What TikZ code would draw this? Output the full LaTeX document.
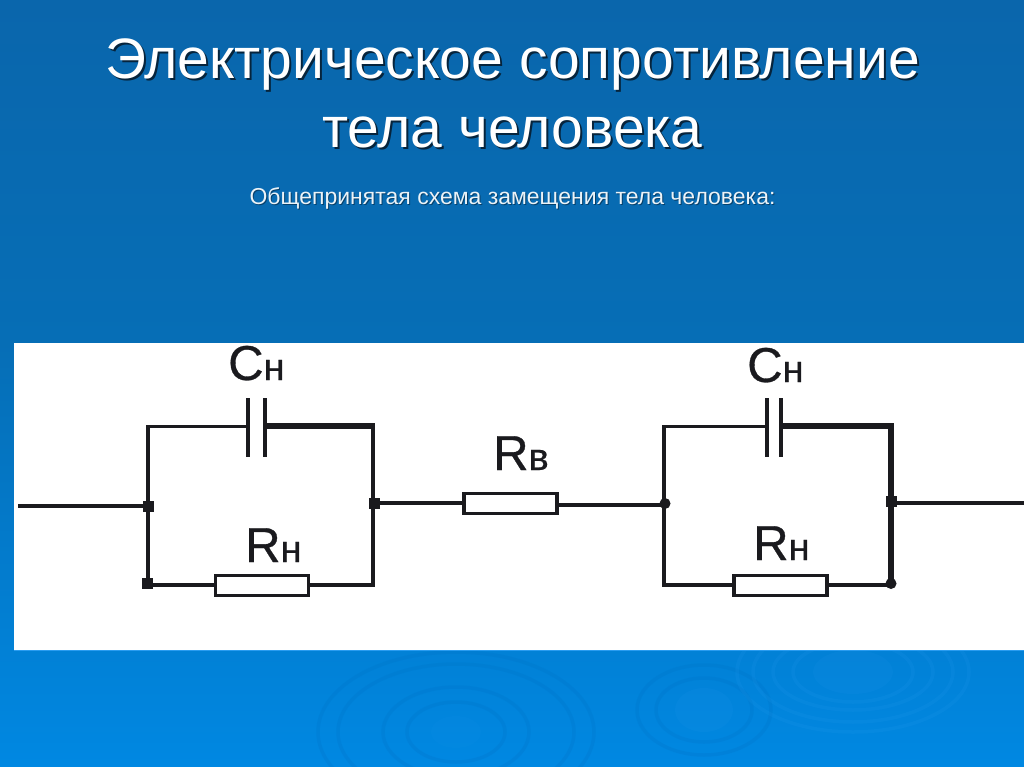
\documentclass[tikz,border=0pt]{standalone}
\usepackage{fontspec}
\setmainfont{Liberation Sans}
\newfontfamily\labfont[FakeBold=0.6]{Liberation Sans}
\definecolor{bgtop}{HTML}{0A66AC}
\definecolor{bgmid}{HTML}{066EB6}
\definecolor{bgbot}{HTML}{0088E2}
\definecolor{ink}{HTML}{1A1A1E}
\definecolor{ripple}{HTML}{2A9CF0}
\definecolor{rippled}{HTML}{0070C4}
\definecolor{shadowcol}{HTML}{06243C}
\tikzset{
  x=1pt,y=-1pt,
  wire/.style={draw=ink,line width=3.4pt,line cap=rect},
  thick wire/.style={draw=ink,line width=6pt},
  plate/.style={draw=ink,line width=4pt},
  resistor/.style={draw=ink,fill=white,line width=3.4pt,minimum width=93pt,minimum height=20pt,inner sep=0pt,outer sep=0pt},
  joint/.style={fill=ink,draw=none,minimum width=11pt,minimum height=11pt,inner sep=0pt},
  lab/.style={text=ink,inner sep=0pt,anchor=base west},
  ttl/.style={font=\fontsize{57}{57}\selectfont,inner sep=0pt,anchor=base},
  subt/.style={font=\fontsize{23}{23}\selectfont,inner sep=0pt,anchor=base},
  rip/.style={draw=ripple,opacity=.14,line width=3.5pt},
  ripd/.style={draw=rippled,opacity=.22,line width=3.5pt},
}
\newcommand{\biglab}{\labfont\fontsize{49}{49}\selectfont}
\newcommand{\smalllab}{\labfont\fontsize{38}{38}\selectfont}
\begin{document}
\begin{tikzpicture}
\useasboundingbox (0,0) rectangle (1024,767);
% background
\shade[top color=bgtop,bottom color=bgmid] (0,0) rectangle (1024,343);
\shade[top color=bgmid,bottom color=bgbot] (0,343) rectangle (1024,767);
% ripples
\begin{scope}
\clip (0,650) rectangle (1024,767);
\foreach \a/\b in {138/80,118/68,73/45,49/30}{
  \draw[ripd] (456,732) ellipse (\a pt and \b pt);
}
\foreach \a/\b in {67/45,48/32}{
  \draw[ripd] (704,710) ellipse (\a pt and \b pt);
}
\foreach \a/\b in {116/60,100/50,80/38,60/30}{
  \draw[rip] (853,672) ellipse (\a pt and \b pt);
}
\fill[ripple,opacity=.1] (853,672) ellipse (40 and 22);
\fill[ripple,opacity=.1] (704,710) ellipse (29 and 22);
\fill[ripple,opacity=.06] (456,732) ellipse (25 and 16);
\end{scope}
% white panel
\fill[white] (14,343) rectangle (1024,650);
\draw[ripple,line width=1pt] (14,650.5) -- (1024,650.5);
% title
\node[ttl,text=shadowcol] at (514.5,81) {Электрическое сопротивление};
\node[ttl,text=shadowcol] at (514.5,150) {тела человека};
\node[ttl,text=white] (t1) at (512.5,79) {Электрическое сопротивление};
\node[ttl,text=white] (t2) at (512.5,148) {тела человека};
\node[subt,text=shadowcol,opacity=.6] at (513.5,206) {Общепринятая схема замещения тела человека:};
\node[subt,text=white!92!bgtop] (sub) at (512.5,205) {Общепринятая схема замещения тела человека:};
% junctions
\node[joint] (j1) at (148,506) {};
\node[joint] (j1b) at (147.5,583) {};
\node[joint] (j2) at (374.5,503) {};
\node[joint,circle,minimum size=11pt] (j3) at (665,503.5) {};
\node[joint] (j4) at (891,501) {};
\node[joint,circle,minimum size=11pt] (j4b) at (891,583.5) {};
% corners and free ends
\coordinate (in) at (20,506);
\coordinate (out) at (1024,503);
\coordinate (tl1) at (148,426.5);
\coordinate (tr1) at (373,425.5);
\coordinate (bl1) at (148,585);
\coordinate (br1) at (373,585);
\coordinate (tl2) at (664,426.5);
\coordinate (tr2) at (891,425.5);
\coordinate (bl2) at (664,585);
\coordinate (br2) at (891,585);
% capacitors
\coordinate (c1a) at (248,398); \coordinate (c1b) at (248,457);
\coordinate (c2a) at (265,398); \coordinate (c2b) at (265,457);
\coordinate (c3a) at (766.5,398); \coordinate (c3b) at (766.5,457);
\coordinate (c4a) at (781,398); \coordinate (c4b) at (781,457);
\coordinate (c1m) at (248,426.5); \coordinate (c2m) at (267,425.5);
\coordinate (c3m) at (766.5,426.5); \coordinate (c4m) at (783,425.5);
% wires
\draw[wire] (in) -- (j1.center);
\draw[wire] (c1m) -- (tl1) -- (bl1) -- (214,585);
\draw[wire] (310,585) -- (br1) -- (tr1);
\draw[thick wire] (c2m) -- (375,425.5);
\draw[wire] (j2.center) -- (463,503);
\draw[wire] (558,505) -- (664,505);
\draw[wire] (c3m) -- (tl2) -- (bl2) -- (733,585);
\draw[wire] (828,585) -- (br2);
\draw[thick wire] (c4m) -- (tr2) -- (br2);
\draw[wire] (j4.center |- out) -- (out);
\draw[plate] (c1a) -- (c1b);
\draw[plate] (c2a) -- (c2b);
\draw[plate] (c3a) -- (c3b);
\draw[plate] (c4a) -- (c4b);
% resistors
\node[resistor] (r1) at (262,585.5) {};
\node[resistor] (r2) at (510.5,503.5) {};
\node[resistor] (r3) at (780.5,585.5) {};
% labels
\node[lab] (lc1) at (228,380) {\biglab С\smalllab н};
\node[lab] (lr1) at (245,562) {\biglab R\smalllab н};
\node[lab] (lr2) at (493,470) {\biglab R\smalllab в};
\node[lab] (lc2) at (747,382) {\biglab С\smalllab н};
\node[lab] (lr3) at (753,560) {\biglab R\smalllab н};
\end{tikzpicture}
\end{document}
